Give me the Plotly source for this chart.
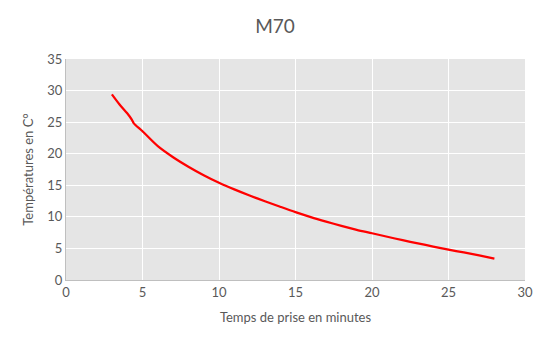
import plotly.graph_objects as go

temps_minutes = [3, 3.5, 4, 4.3, 4.42, 5, 6, 7, 8, 9, 10, 11, 12, 13, 14, 15, 16, 17, 18, 19, 20,
                 21, 22, 23, 24, 25, 26, 27, 28]
temperatures = [29.4, 27.8, 26.4, 25.4, 24.85, 23.55, 21.2, 19.45, 17.95, 16.6, 15.4, 14.35, 13.38,
                12.47, 11.6, 10.75, 9.97, 9.25, 8.57, 7.95, 7.4, 6.85, 6.3, 5.8, 5.3, 4.82, 4.36,
                3.9, 3.4]

x_ticks = [0, 5, 10, 15, 20, 25, 30]
y_ticks = [0, 5, 10, 15, 20, 25, 30, 35]

font_family = "Lato, Open Sans, sans-serif"
grey_text = "#595959"

fig = go.Figure()
fig.add_trace(go.Scatter(
    x=temps_minutes, y=temperatures, mode="lines",
    line=dict(color="#FF0000", width=2.25, shape="spline", smoothing=0.8),
    showlegend=False, hoverinfo="x+y",
))

fig.update_layout(
    width=550, height=351,
    margin=dict(l=66, r=25, t=59, b=71),
    paper_bgcolor="white",
    plot_bgcolor="#E5E5E5",
    title=dict(text="M70", x=0.5, xanchor="center", y=0.925, yanchor="middle",
               font=dict(family=font_family, size=19, color=grey_text)),
    font=dict(family=font_family, color=grey_text, size=12),
)
fig.update_xaxes(
    range=[0, 30], tickvals=x_ticks, ticktext=[str(v) for v in x_ticks],
    showgrid=True, gridcolor="white", gridwidth=1.3,
    showline=True, linecolor="#BFBFBF", linewidth=1, zeroline=False,
    ticks="", ticklen=0,
    tickfont=dict(size=13, color=grey_text, family=font_family),
    title=dict(text="Temps de prise en minutes", standoff=14,
               font=dict(size=13, color=grey_text, family=font_family)),
)
fig.update_yaxes(
    range=[0, 35], tickvals=y_ticks, ticktext=[str(v) for v in y_ticks],
    showgrid=True, gridcolor="white", gridwidth=1.3,
    showline=True, linecolor="#BFBFBF", linewidth=1, zeroline=False,
    ticks="", ticklen=0,
    tickfont=dict(size=13, color=grey_text, family=font_family),
    title=dict(text="Températures en C°", standoff=10,
               font=dict(size=13, color=grey_text, family=font_family)),
)

fig.write_html("out.html")
